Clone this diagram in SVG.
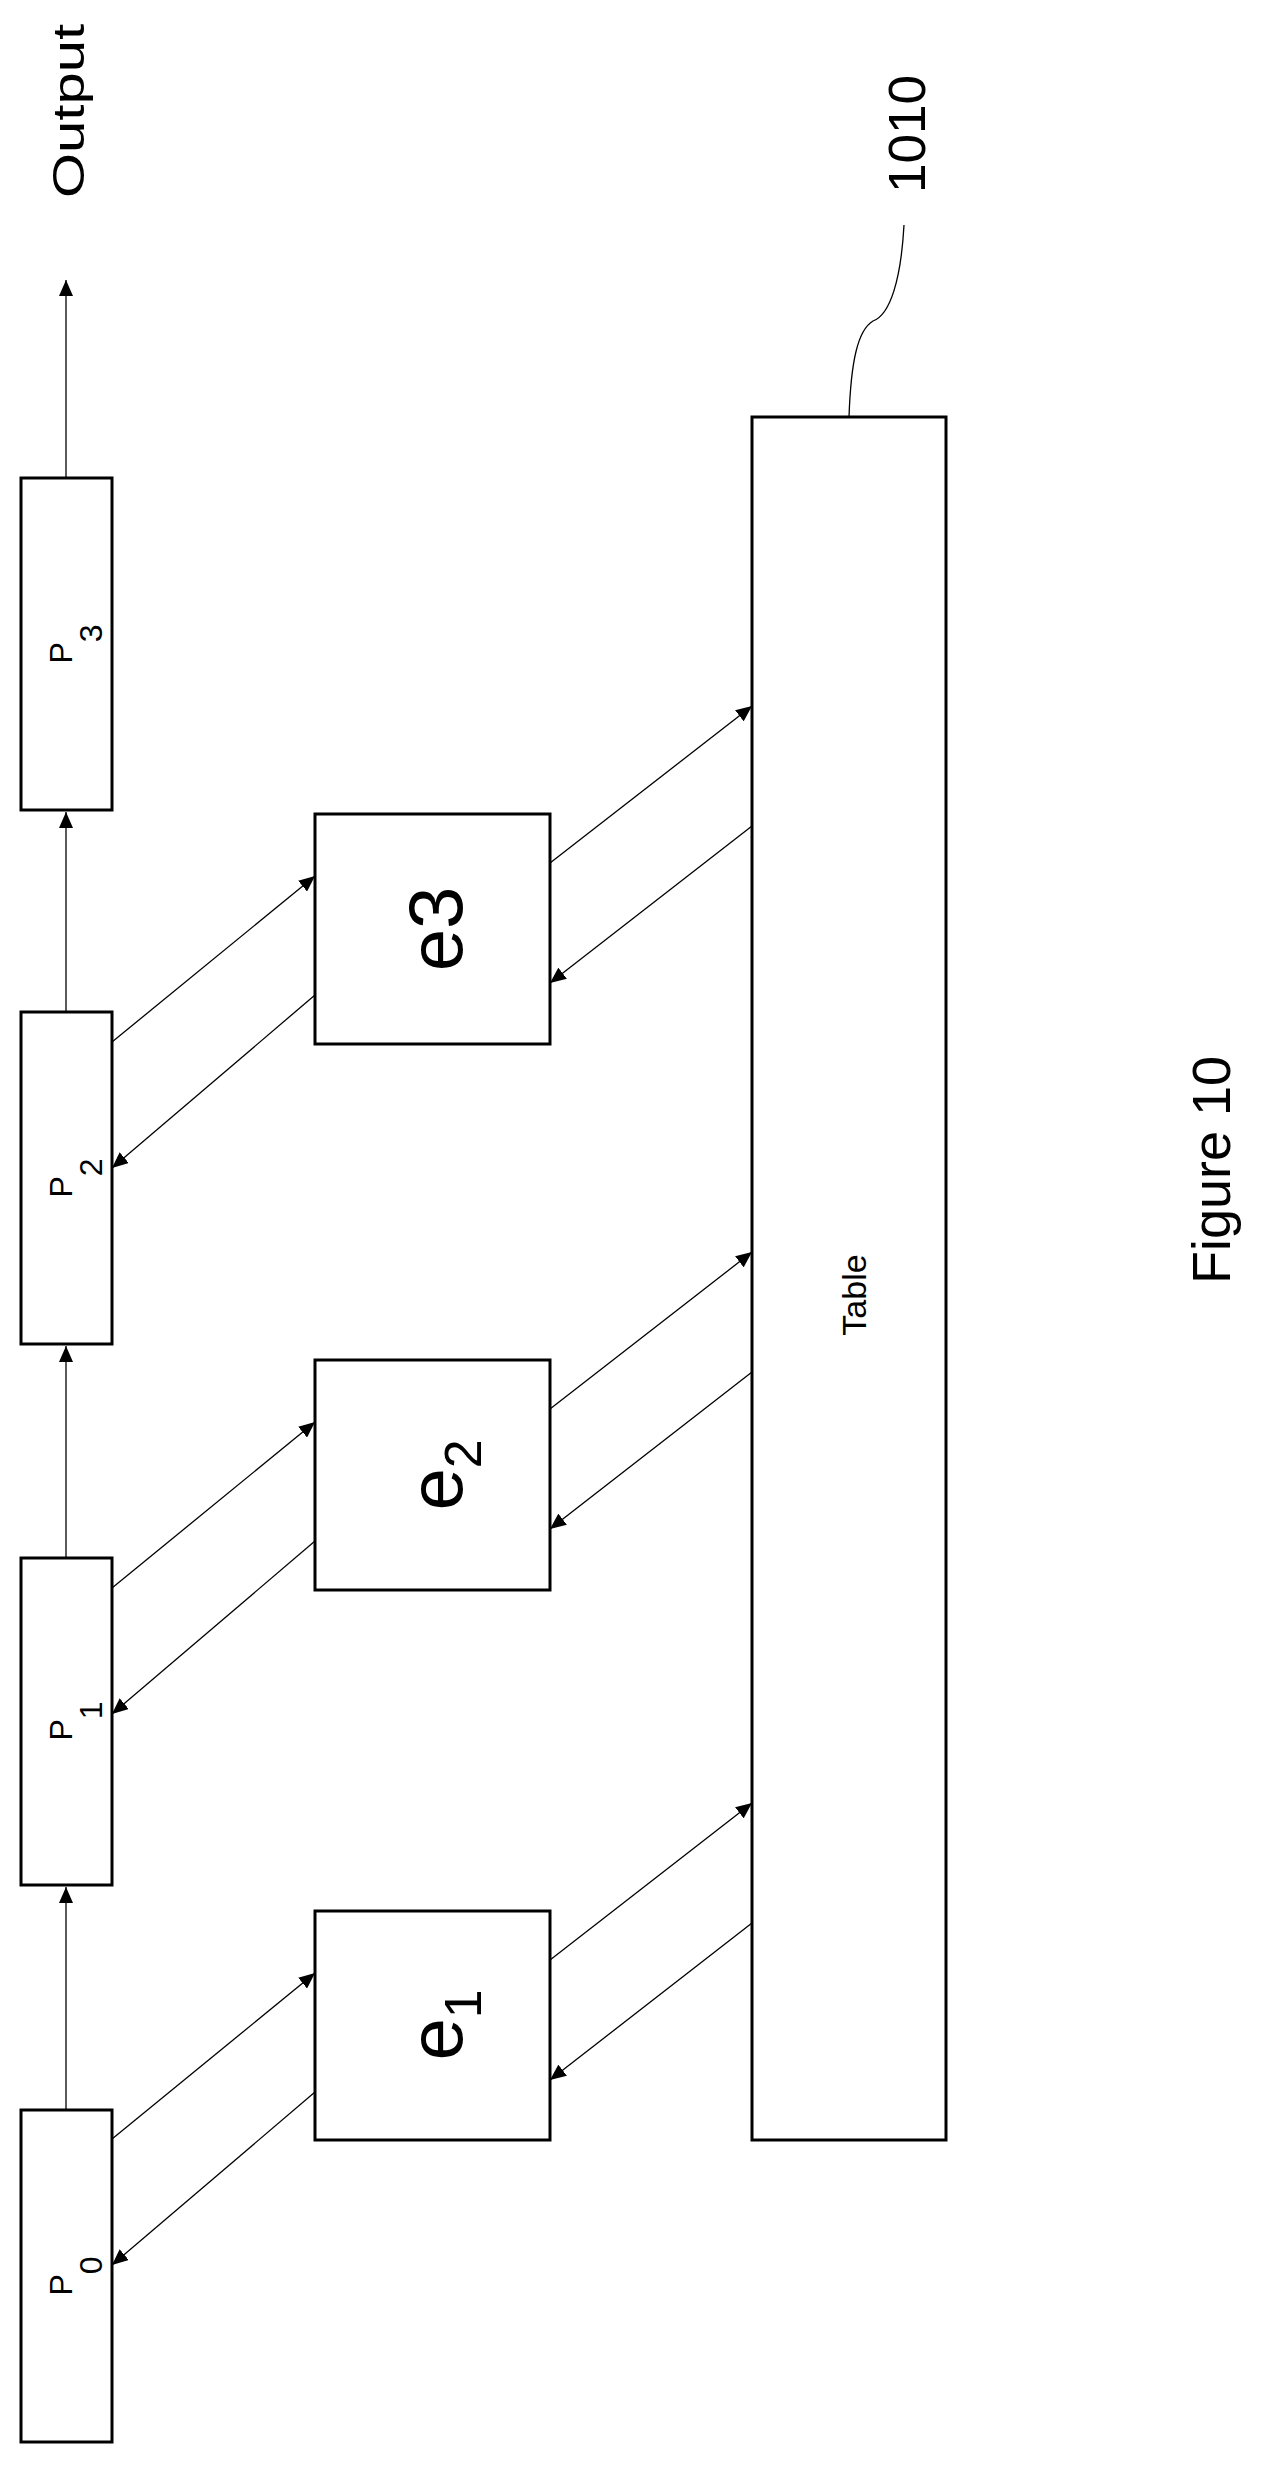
<svg xmlns="http://www.w3.org/2000/svg" width="1266" height="2465" viewBox="0 0 1266 2465">
<style>
.box{fill:#fff;stroke:#000;stroke-width:3}
.ln{stroke:#000;stroke-width:1.3;fill:none}
text{font-family:"Liberation Sans",Arial,sans-serif;fill:#000}
</style>
<defs>
<marker id="ah" markerUnits="userSpaceOnUse" markerWidth="18" markerHeight="14" refX="16" refY="7" orient="auto">
<path d="M0,0 L16,7 L0,14 Z" fill="#000"/>
</marker>
</defs>
<rect width="1266" height="2465" fill="#fff"/>
<g id="P0"><rect class="box" x="21" y="2110" width="91" height="332"/>
<text transform="translate(72,2276) rotate(-90)" text-anchor="middle" font-size="32">P<tspan font-size="32" dy="30">0</tspan></text></g>
<g id="P1"><rect class="box" x="21" y="1558" width="91" height="327"/>
<text transform="translate(72,1721) rotate(-90)" text-anchor="middle" font-size="32">P<tspan dy="30">1</tspan></text></g>
<g id="P2"><rect class="box" x="21" y="1012" width="91" height="332"/>
<text transform="translate(72,1178) rotate(-90)" text-anchor="middle" font-size="32">P<tspan dy="30">2</tspan></text></g>
<g id="P3"><rect class="box" x="21" y="478" width="91" height="332"/>
<text transform="translate(72,644) rotate(-90)" text-anchor="middle" font-size="32">P<tspan dy="30">3</tspan></text></g>
<g id="e1"><rect class="box" x="315" y="1911" width="235" height="229"/>
<text transform="translate(462,2025) rotate(-90)" text-anchor="middle" font-size="76">e<tspan font-size="52" dy="19">1</tspan></text></g>
<g id="e2"><rect class="box" x="315" y="1360" width="235" height="230"/>
<text transform="translate(462,1475) rotate(-90)" text-anchor="middle" font-size="76">e<tspan font-size="52" dy="19">2</tspan></text></g>
<g id="e3"><rect class="box" x="315" y="814" width="235" height="230"/>
<text transform="translate(462,929) rotate(-90)" text-anchor="middle" font-size="76">e3</text></g>
<g id="table"><rect class="box" x="752" y="417" width="194" height="1723"/>
<text transform="translate(866,1295) rotate(-90)" text-anchor="middle" font-size="34">Table</text></g>
<g id="connectors">
<line class="ln" x1="66" y1="2110" x2="66" y2="1887" marker-end="url(#ah)"/>
<line class="ln" x1="66" y1="1558" x2="66" y2="1346" marker-end="url(#ah)"/>
<line class="ln" x1="66" y1="1012" x2="66" y2="812" marker-end="url(#ah)"/>
<line class="ln" x1="66" y1="478" x2="66" y2="280" marker-end="url(#ah)"/>
<line class="ln" x1="112" y1="2139" x2="315" y2="1973" marker-end="url(#ah)"/>
<line class="ln" x1="315" y1="2092" x2="112" y2="2265" marker-end="url(#ah)"/>
<line class="ln" x1="550" y1="1960" x2="752" y2="1803" marker-end="url(#ah)"/>
<line class="ln" x1="752" y1="1923" x2="550" y2="2080" marker-end="url(#ah)"/>
<line class="ln" x1="112" y1="1588" x2="315" y2="1422" marker-end="url(#ah)"/>
<line class="ln" x1="315" y1="1541" x2="112" y2="1714" marker-end="url(#ah)"/>
<line class="ln" x1="550" y1="1409" x2="752" y2="1252" marker-end="url(#ah)"/>
<line class="ln" x1="752" y1="1372" x2="550" y2="1529" marker-end="url(#ah)"/>
<line class="ln" x1="112" y1="1042" x2="315" y2="876" marker-end="url(#ah)"/>
<line class="ln" x1="315" y1="995" x2="112" y2="1168" marker-end="url(#ah)"/>
<line class="ln" x1="550" y1="863" x2="752" y2="706" marker-end="url(#ah)"/>
<line class="ln" x1="752" y1="826" x2="550" y2="983" marker-end="url(#ah)"/>
<path class="ln" d="M849,417 C851,360 858,330 873,321 C890,315 901,280 904,225"/>
</g>
<text transform="translate(84,111) rotate(-90)" text-anchor="middle" font-size="44" textLength="174" lengthAdjust="spacingAndGlyphs">Output</text>
<text transform="translate(925,134) rotate(-90)" text-anchor="middle" font-size="52" textLength="118" lengthAdjust="spacingAndGlyphs">1010</text>
<text transform="translate(1230,1170) rotate(-90)" text-anchor="middle" font-size="54">Figure 10</text>
</svg>
